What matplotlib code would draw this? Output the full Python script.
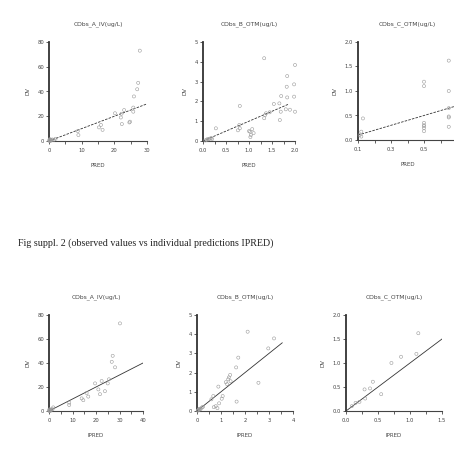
import matplotlib
matplotlib.use("Agg")
import matplotlib.pyplot as plt
from matplotlib.ticker import MultipleLocator, FixedLocator

titles = ["CObs_A_IV(ug/L)", "CObs_B_OTM(ug/L)", "CObs_C_OTM(ug/L)"]
caption = "Fig suppl. 2 (observed values vs individual predictions IPRED)"

# Top row: PRED vs DV
predA = [0.1, 0.2, 0.3, 0.4, 0.5, 0.7, 1.0, 1.5, 2.0, 0.15, 0.25, 0.35, 8.8, 9.0, 15.3, 15.9, 16.4, 20.2, 22.0, 22.2, 22.3,
         23.0, 24.6, 24.8, 25.8, 25.8, 26.0, 27.0, 27.3, 27.8]
dvA_p = [0.2, 0.5, 0.1, 0.8, 0.3, 0.6, 1.2, 1.0, 1.8, 1.0, 1.5, 0.7, 8.0, 4.8, 11.0, 13.0, 9.0, 22.4, 19.0, 22.0, 13.7,
         25.0, 15.0, 15.6, 23.7, 27.0, 36.0, 41.8, 47.0, 73.0]
predB = [0.05, 0.08, 0.1, 0.12, 0.15, 0.18, 0.2, 0.28, 0.76, 0.79, 0.8, 0.8, 1.0, 1.02, 1.03, 1.04, 1.07,
         1.1, 1.33, 1.35, 1.37, 1.45, 1.54, 1.66, 1.67, 1.69, 1.7, 1.8, 1.82, 1.83, 1.83, 1.89, 1.98,
         1.98, 2.0, 2.0, 1.33]
dvB_p = [0.03, 0.06, 0.1, 0.08, 0.12, 0.15, 0.1, 0.64, 0.54, 0.81, 0.64, 1.77, 0.5, 0.47, 0.2, 0.3, 0.6,
         0.4, 1.15, 1.31, 1.4, 1.45, 1.87, 1.9, 1.06, 1.48, 2.27, 1.6, 2.74, 2.2, 3.28, 1.58, 2.86,
         2.24, 1.48, 3.84, 4.18]
predC = [0.11, 0.12, 0.12, 0.13, 0.5, 0.5, 0.5, 0.5, 0.5, 0.5, 0.5, 0.65, 0.65, 0.65, 0.65, 0.65, 0.65]
dvC_p = [0.1, 0.07, 0.17, 0.44, 0.18, 0.24, 0.28, 0.3, 0.35, 1.1, 1.19, 0.27, 0.46, 0.48, 0.65, 1.0, 1.62]

# Bottom row: IPRED vs DV
ipredA = [0.1, 0.2, 0.3, 0.5, 0.7, 1.0, 1.5, 1.8, 0.15, 0.4, 8.6, 8.6, 13.9, 14.6, 16.0, 16.7, 19.6, 21.0, 21.7,
          22.4, 23.8, 25.0, 25.5, 26.7, 27.1, 28.1, 30.2]
dvA_i = [0.2, 0.4, 0.1, 0.6, 0.3, 1.0, 1.5, 3.0, 1.2, 1.4, 7.0, 5.0, 10.5, 9.0, 15.0, 12.0, 23.0, 18.0, 14.0,
         25.0, 16.5, 23.0, 26.4, 41.0, 46.0, 36.4, 73.0]
ipredB = [0.03, 0.05, 0.08, 0.1, 0.12, 0.15, 0.2, 0.25, 0.6, 0.68, 0.7, 0.78, 0.85, 0.89, 0.92, 1.03,
          1.07, 1.2, 1.25, 1.3, 1.33, 1.38, 1.4, 1.63, 1.65, 1.72, 2.11, 2.56, 2.97, 3.21]
dvB_i = [0.02, 0.05, 0.1, 0.07, 0.12, 0.1, 0.18, 0.22, 0.61, 0.78, 0.2, 0.25, 0.15, 1.27, 0.4, 0.64,
         0.78, 1.5, 1.4, 1.65, 1.75, 1.88, 1.55, 2.27, 0.49, 2.78, 4.13, 1.47, 3.26, 3.78]
ipredC = [0.09, 0.15, 0.21, 0.29, 0.3, 0.375, 0.42, 0.55, 0.71, 0.86, 1.1, 1.13]
dvC_i = [0.1, 0.17, 0.19, 0.45, 0.26, 0.47, 0.61, 0.35, 1.0, 1.13, 1.19, 1.62]

top_data = [(predA, dvA_p), (predB, dvB_p), (predC, dvC_p)]
bot_data = [(ipredA, dvA_i), (ipredB, dvB_i), (ipredC, dvC_i)]

top_xmajor = [[0, 10, 20, 30], [0, 0.5, 1, 1.5, 2], [0.1, 0.3, 0.5]]
top_xminor = [[5, 15, 25], [0.25, 0.75, 1.25, 1.75], [0.2, 0.4, 0.6]]
bot_xmajor = [[0, 10, 20, 30, 40], [0, 1, 2, 3, 4], [0, 0.5, 1, 1.5]]
bot_xminor = [[5, 15, 25, 35], [0.5, 1.5, 2.5, 3.5], [0.25, 0.75, 1.25]]
yticks_all = [[0, 20, 40, 60, 80], [0, 1, 2, 3, 4, 5], [0, 0.5, 1, 1.5, 2]]

W, H = 454, 465
fig = plt.figure(figsize=(W / 100, H / 100), dpi=100)
fig.patch.set_facecolor("white")

def px_axes(left, right, top, bottom):
    return fig.add_axes([left / W, 1 - bottom / H, (right - left) / W, (bottom - top) / H])

top_boxes = [(49, 147, 42, 141), (203, 295, 42, 141), (358, 457, 42, 140)]
top_lims = [((0, 30), (0, 80)), ((0, 2), (0, 5)), ((0.1, 0.7), (0, 2))]
top_line = [(0, 30), (0, 1.85), (0.1, 0.7)]

bot_boxes = [(49, 143, 315, 411), (197, 293, 315, 411), (346, 442, 315, 411)]
bot_lims = [((0, 40), (0, 80)), ((0, 4), (0, 5)), ((0, 1.5), (0, 2))]
bot_line = [(0, 40), (0, 3.55), (0, 1.5)]

font = "DejaVu Sans"

def style(ax, xlim, ylim, xmaj, xmin, ymaj, xlabel, title):
    ax.set_xlim(*xlim)
    ax.set_ylim(*ylim)
    ax.xaxis.set_major_locator(FixedLocator(xmaj))
    ax.xaxis.set_minor_locator(FixedLocator(xmin))
    ax.yaxis.set_major_locator(FixedLocator(ymaj))
    for s in ["top", "right"]:
        ax.spines[s].set_visible(False)
    ax.spines["left"].set_linewidth(1.3)
    ax.spines["left"].set_color("#333333")
    ax.spines["bottom"].set_linewidth(0.8)
    ax.spines["bottom"].set_color("#444444")
    ax.tick_params(which="both", direction="out", length=2, width=0.6, colors="#444444",
                   labelsize=3.8, pad=1.5)
    ax.tick_params(axis="x", which="major", pad=3)
    ax.set_xlabel(xlabel, fontsize=4, color="#444444", labelpad=7, family=font)
    ax.set_ylabel("DV", fontsize=4, color="#444444", labelpad=5, family=font)
    ax.set_title(title, fontsize=4.3, color="#444444", pad=12, family=font)
    ax.patch.set_alpha(0)

for i in range(3):
    ax = px_axes(*top_boxes[i])
    x, y = top_data[i]
    ax.scatter(x, y, s=5, facecolors="none", edgecolors="#9a9a9a", linewidths=0.4, clip_on=False, zorder=3)
    lx = top_line[i]
    ax.plot(lx, lx, color="#333333", lw=0.6, ls=(0, (3, 1.5)), zorder=2)
    style(ax, top_lims[i][0], top_lims[i][1], top_xmajor[i], top_xminor[i], yticks_all[i],
          "PRED", titles[i])

for i in range(3):
    ax = px_axes(*bot_boxes[i])
    x, y = bot_data[i]
    ax.scatter(x, y, s=5, facecolors="none", edgecolors="#9a9a9a", linewidths=0.4, clip_on=False, zorder=3)
    lx = bot_line[i]
    ax.plot(lx, lx, color="#333333", lw=0.6, zorder=2)
    style(ax, bot_lims[i][0], bot_lims[i][1], bot_xmajor[i], bot_xminor[i], yticks_all[i],
          "IPRED", titles[i])

fig.text(18 / W, 1 - 243 / H, caption, fontsize=7.2, family="Liberation Serif",
         color="#222222", va="center", ha="left")

fig.savefig("out.png", dpi=100, facecolor="white")
